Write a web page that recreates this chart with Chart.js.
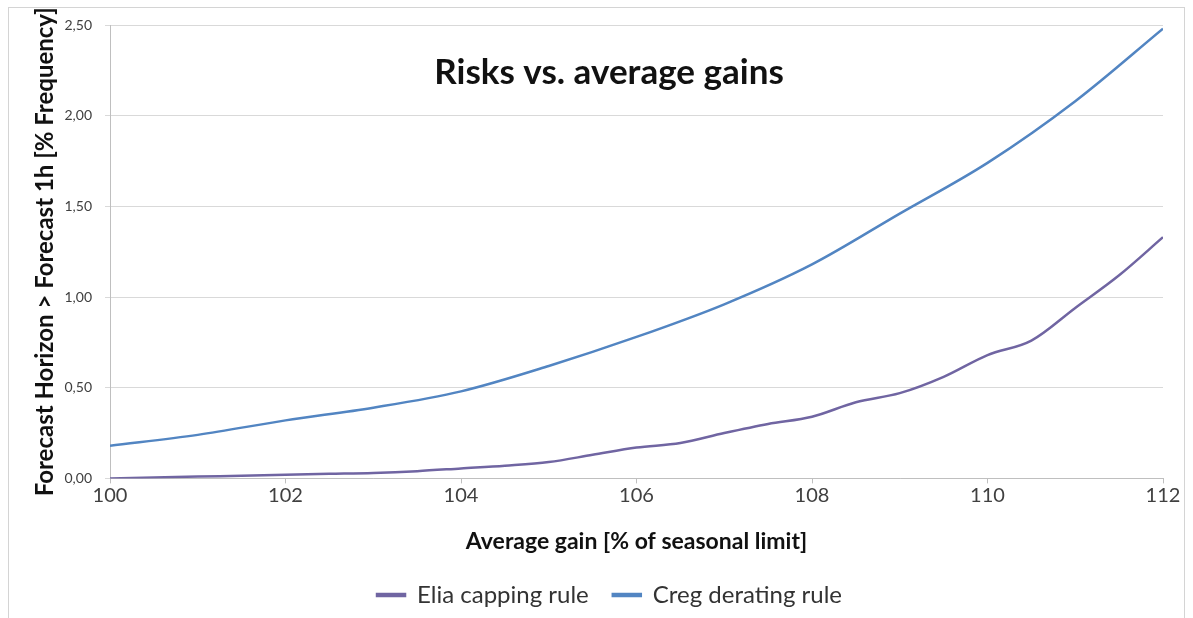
<!DOCTYPE html>
<html>
<head>
<meta charset="utf-8">
<script src="https://cdn.jsdelivr.net/npm/chart.js@4"></script>
<style>
  html, body { margin: 0; padding: 0; background: #fff; overflow: hidden; }
  #wrap { position: relative; width: 1193px; height: 618px; }
  #frame { position: absolute; left: 8px; top: 7px; width: 1177px; height: 640px; border: 1px solid #d4d4d4; box-sizing: border-box; }
  #growth { position: absolute; left: 0; top: 0; }
</style>
</head>
<body>
<div id="wrap">
  <div id="frame"></div>
  <canvas id="growth" width="1193" height="618"></canvas>
</div>
<script>
// values
const eliaX = [100, 100.5, 101, 101.5, 102, 102.5, 103, 103.5, 104, 104.5, 105, 105.5, 106, 106.5, 107, 107.5, 108, 108.5, 109, 109.5, 110, 110.5, 111, 111.5, 112];
const eliaY = [0.00, 0.005, 0.01, 0.015, 0.02, 0.025, 0.03, 0.04, 0.055, 0.07, 0.09, 0.13, 0.17, 0.195, 0.25, 0.30, 0.34, 0.42, 0.47, 0.56, 0.68, 0.76, 0.94, 1.12, 1.33];
const cregX = [100, 101, 102, 103, 104, 105, 106, 107, 108, 109, 110, 111, 112];
const cregY = [0.18, 0.24, 0.32, 0.39, 0.48, 0.62, 0.78, 0.96, 1.18, 1.46, 1.74, 2.08, 2.48];
const seriesNames = ['Elia capping rule', 'Creg derating rule'];
const chartTitle = 'Risks vs. average gains';
const xTitle = 'Average gain [% of seasonal limit]';
const yTitle = 'Forecast Horizon > Forecast 1h [% Frequency]';

const fontName = 'Lato, "Open Sans", sans-serif';

// title sits inside the plot, like the original
const titlePlugin = {
    id: 'insideTitle',
    afterUpdate(chart) {
        // nudge the legend a bit to the right
        if (chart.legend) chart.legend.left += 48;
    },
    afterDraw(chart) {
        const ctx = chart.ctx;
        ctx.save();
        ctx.font = 'bold 35px ' + fontName;
        ctx.fillStyle = '#111';
        ctx.textAlign = 'center';
        ctx.textBaseline = 'middle';
        ctx.fillText(chartTitle, 609, 73);
        ctx.restore();
    }
};

const ctx = document.getElementById('growth').getContext('2d');
new Chart(ctx, {
    type: 'line',
    data: {
        datasets: [{
            label: seriesNames[0],
            data: eliaX.map((x, i) => ({x: x, y: eliaY[i]})),
            borderColor: '#7065a2',
            backgroundColor: '#7065a2',
            borderWidth: 2.5,
            pointRadius: 0,
            cubicInterpolationMode: 'monotone'
        }, {
            label: seriesNames[1],
            data: cregX.map((x, i) => ({x: x, y: cregY[i]})),
            borderColor: '#5285c2',
            backgroundColor: '#5285c2',
            borderWidth: 2.5,
            pointRadius: 0,
            cubicInterpolationMode: 'monotone'
        }]
    },
    options: {
        responsive: false,
        animation: false,
        layout: { padding: { left: 8, right: 30, top: 25, bottom: 1 } },
        scales: {
            x: {
                type: 'linear',
                min: 100,
                max: 112,
                ticks: { stepSize: 2, padding: 0, color: '#404040', font: { family: fontName, size: 20 } },
                grid: { drawOnChartArea: false, drawTicks: true, tickLength: 5, color: '#bfbfbf' },
                border: { color: '#bfbfbf' },
                title: { display: true, text: xTitle, color: '#111', font: { family: fontName, size: 23, weight: 'bold' }, padding: { top: 20, bottom: 4 } }
            },
            y: {
                min: 0,
                max: 2.5,
                afterFit(scale) { scale.width = 102; },
                ticks: {
                    stepSize: 0.5,
                    padding: 13,
                    color: '#404040',
                    font: { family: fontName, size: 14 },
                    callback: v => v.toFixed(2).replace('.', ',')
                },
                grid: { color: '#d9d9d9', tickLength: 5 },
                border: { color: '#bfbfbf' },
                title: { display: true, text: yTitle, color: '#111', font: { family: fontName, size: 24, weight: 'bold' }, padding: { top: 23, bottom: 0 } }
            }
        },
        plugins: {
            legend: {
                position: 'bottom',
                labels: { boxWidth: 28, boxHeight: 2, padding: 24, color: '#333', font: { family: fontName, size: 24 } }
            },
            tooltip: { enabled: false }
        }
    },
    plugins: [titlePlugin]
});
</script>
</body>
</html>
